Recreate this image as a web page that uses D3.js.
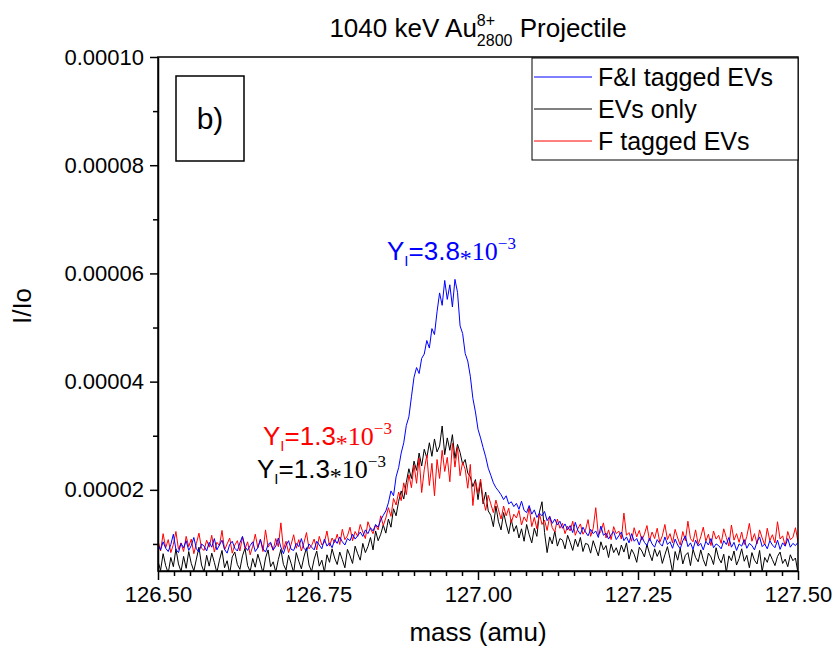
<!DOCTYPE html>
<html>
<head>
<meta charset="utf-8">
<script src="https://cdn.jsdelivr.net/npm/d3@7"></script>
<style>
  body { margin: 0; background: #fff; }
  text { font-family: "Liberation Sans", Arial, sans-serif; fill: #000; }
</style>
</head>
<body>
<svg id="chart" width="834" height="651"></svg>
<script>
// mass grid: 126.500 .. 127.500 amu, one sample every 0.004 amu
const massStart = 126.5, massStep = 0.004, nPoints = 251;

// I/Io in units of 1e-6
const fiTagged = [
  9.8, 8.9, 10.4, 9.2, 8.6, 9.9, 11.8, 9.0, 8.4, 10.1,
  9.3, 10.6, 8.8, 9.7, 11.2, 9.1, 8.5, 10.0, 9.6, 8.7,
  10.3, 9.4, 11.0, 8.9, 9.8, 10.7, 9.0, 8.3, 9.9, 10.5,
  9.2, 8.7, 10.2, 11.4, 9.5, 8.8, 9.7, 10.4, 8.6, 9.3,
  10.8, 9.1, 8.5, 9.9, 10.3, 8.9, 9.6, 11.1, 9.4, 8.2,
  9.7, 10.6, 9.0, 8.8, 10.1, 9.5, 11.0, 9.2, 8.7, 10.0,
  9.4, 8.9, 10.5, 9.8, 9.1, 10.9, 9.6, 10.2, 9.3, 10.8,
  10.1, 11.3, 10.4, 9.8, 11.0, 10.6, 11.8, 10.9, 11.5, 12.2,
  11.4, 12.6, 11.9, 13.0, 12.4, 13.6, 13.1, 14.4, 15.3, 16.1,
  17.6, 19.8, 18.9, 22.4, 24.1, 26.8, 28.7, 31.9, 33.5, 37.2,
  40.8, 42.6, 41.5, 44.3, 45.1, 47.6, 46.2, 49.8, 48.7, 52.9,
  56.4, 54.1, 58.7, 55.2, 57.9, 53.8, 58.9, 56.5, 50.3, 48.9,
  45.2, 43.8, 41.0, 36.9, 34.4, 31.2, 29.6, 27.8, 26.1, 24.0,
  22.7, 21.3, 20.4, 19.8, 19.1, 18.2, 18.9, 17.4, 17.8, 16.9,
  17.5, 16.4, 17.9, 16.2, 15.8, 17.1, 15.5, 16.3, 14.9, 15.7,
  15.2, 16.0, 14.3, 15.1, 13.8, 14.6, 13.5, 14.2, 12.9, 13.7,
  12.6, 13.4, 12.1, 14.0, 12.5, 11.8, 13.1, 12.2, 11.5, 12.7,
  11.9, 12.4, 11.2, 13.3, 11.6, 12.0, 10.9, 11.7, 12.3, 10.8,
  11.5, 12.2, 10.6, 11.3, 10.2, 11.9, 10.5, 11.0, 9.8, 11.4,
  10.3, 9.7, 11.1, 10.0, 9.4, 10.8, 10.1, 9.6, 11.3, 9.9,
  10.4, 9.2, 10.9, 9.8, 9.1, 10.6, 11.5, 9.5, 10.2, 9.0,
  10.7, 9.6, 10.1, 8.9, 10.5, 9.8, 11.0, 9.3, 10.0, 9.7,
  9.1, 10.6, 9.9, 11.2, 9.4, 10.3, 8.8, 10.0, 9.6, 10.8,
  9.2, 10.1, 9.7, 8.9, 10.4, 11.3, 9.5, 10.0, 9.1, 10.6,
  9.8, 9.3, 10.7, 9.0, 10.2, 9.6, 11.0, 9.4, 10.1, 9.7,
  10.3
];

const evsOnly = [
  6.8, 5.1, 8.2, 6.0, 4.6, 7.5, 5.8, 9.1, 6.3, 4.9,
  7.7, 5.5, 8.6, 6.4, 5.0, 7.2, 9.4, 6.1, 4.8, 7.9,
  5.9, 8.3, 6.6, 4.7, 7.0, 8.8, 5.6, 6.9, 4.5, 7.6,
  8.5, 6.2, 5.3, 7.8, 9.2, 6.0, 4.9, 7.3, 5.7, 8.1,
  6.5, 4.6, 7.4, 8.9, 5.8, 6.7, 4.8, 7.1, 9.0, 6.2,
  5.2, 7.9, 6.4, 4.7, 8.4, 6.8, 5.4, 7.6, 9.3, 6.1,
  4.9, 7.2, 8.7, 5.9, 7.0, 4.8, 8.0, 6.6, 9.1, 7.4,
  6.2, 8.5, 7.1, 5.6, 9.0, 7.8, 6.4, 9.6, 8.2, 7.0,
  10.1, 8.4, 9.5, 11.2, 8.9, 12.4, 10.6, 11.8, 13.5, 12.0,
  14.6, 13.1, 16.5, 15.2, 17.9, 19.8, 18.3, 21.4, 23.9, 22.1,
  25.3, 23.6, 26.8, 24.4, 27.5, 25.9, 28.7, 26.2, 29.4, 27.0,
  28.1, 31.8, 26.5, 29.6, 27.3, 30.2, 25.8, 28.4, 26.9, 24.7,
  25.6, 23.1, 22.4, 20.6, 21.9, 18.2, 21.5, 17.4, 19.6, 16.1,
  15.3, 13.2, 17.0, 14.1, 12.6, 15.8, 13.7, 11.9, 14.5, 12.3,
  13.4, 11.1, 12.8, 10.5, 13.6, 11.7, 10.2, 12.9, 11.4, 15.9,
  17.8, 12.1, 8.4, 11.3, 10.0, 12.4, 9.6, 11.0, 10.7, 9.1,
  11.6, 10.3, 8.8, 10.9, 9.5, 11.2, 8.6, 10.1, 9.9, 8.3,
  10.6, 9.2, 7.8, 10.4, 8.9, 9.7, 7.5, 10.0, 8.4, 9.3,
  7.9, 9.8, 8.5, 10.2, 7.2, 9.0, 8.1, 6.6, 9.4, 8.7,
  7.6, 9.9, 8.2, 6.9, 9.1, 7.7, 8.8, 6.4, 8.0, 9.5,
  7.3, 4.8, 8.6, 7.0, 9.2, 6.3, 7.9, 8.4, 6.0, 9.0,
  7.5, 6.7, 8.9, 7.1, 5.9, 8.3, 7.6, 6.2, 9.3, 7.4,
  6.5, 8.1, 4.7, 7.8, 6.9, 8.7, 6.1, 7.3, 9.1, 6.8,
  7.9, 5.6, 8.4, 7.0, 6.3, 8.8, 4.9, 7.5, 6.6, 8.2,
  7.1, 6.0, 7.7, 8.5, 6.4, 7.2, 5.8, 8.0, 6.9, 7.4,
  4.6
];

const fTagged = [
  10.6, 8.7, 11.9, 9.3, 10.8, 8.4, 9.9, 12.3, 9.0, 10.2,
  8.6, 11.4, 9.5, 10.9, 8.2, 10.1, 12.0, 9.2, 8.8, 10.7,
  9.4, 11.6, 8.5, 10.3, 9.7, 12.5, 8.9, 10.0, 11.1, 8.3,
  9.8, 10.6, 8.7, 11.3, 9.1, 10.4, 8.0, 9.6, 11.8, 9.3,
  10.9, 8.6, 12.6, 9.4, 10.1, 8.8, 11.0, 9.5, 13.9, 9.0,
  10.5, 8.4, 9.9, 11.7, 9.2, 10.8, 8.7, 10.2, 12.1, 9.1,
  9.7, 10.9, 8.9, 11.4, 9.8, 10.3, 12.4, 9.6, 11.1, 10.2,
  11.8, 9.9, 12.7, 10.8, 11.5, 13.1, 10.6, 12.3, 11.4, 13.6,
  12.2, 11.0, 14.1, 12.8, 11.9, 13.5, 12.6, 15.2, 13.4, 14.8,
  16.7, 15.1, 18.4, 17.2, 19.6, 18.0, 21.3, 19.1, 22.8, 20.4,
  24.6, 21.2, 25.9, 19.5, 23.7, 26.4, 20.8, 24.9, 18.9, 25.6,
  22.1, 27.3, 23.4, 26.0, 21.5, 28.6, 24.2, 27.9, 22.6, 25.1,
  23.8, 20.3, 24.7, 17.1, 21.6, 19.4, 22.0, 18.3, 16.2, 19.0,
  17.4, 15.8, 18.1, 16.3, 14.6, 17.0, 15.2, 16.6, 13.9, 15.5,
  14.8, 16.2, 13.5, 15.0, 14.1, 16.8, 13.2, 14.9, 12.8, 15.6,
  13.6, 14.4, 12.5, 15.1, 13.0, 12.2, 14.6, 12.9, 13.8, 11.9,
  13.3, 12.4, 14.2, 11.6, 12.8, 13.7, 11.8, 12.6, 14.5, 11.4,
  12.9, 16.7, 11.7, 12.3, 13.9, 11.1, 12.6, 10.8, 13.2, 11.9,
  12.4, 10.9, 15.7, 11.6, 12.1, 10.5, 13.0, 11.3, 12.5, 10.7,
  11.8, 13.4, 10.6, 12.2, 11.0, 12.9, 10.3, 11.5, 13.6, 10.8,
  11.9, 10.2, 12.7, 11.1, 9.8, 12.3, 10.6, 14.2, 11.0, 10.4,
  12.6, 9.9, 11.3, 13.1, 10.5, 11.8, 9.7, 12.4, 10.9, 11.6,
  10.1, 12.8, 11.2, 9.6, 13.5, 10.7, 11.9, 10.3, 12.2, 9.9,
  11.4, 13.8, 10.5, 11.9, 10.0, 12.6, 11.1, 9.8, 12.9, 10.6,
  11.7, 10.2, 14.1, 10.9, 11.5, 9.6, 12.3, 10.8, 11.2, 13.0,
  10.4
];

const seriesNames = ["F&I tagged EVs", "EVs only", "F tagged EVs"];
const seriesColors = ["#0000ff", "#000000", "#ff0000"];
const xTicks = [126.5, 126.75, 127.0, 127.25, 127.5];
const yTicks = [0.00002, 0.00004, 0.00006, 0.00008, 0.00010];

const margin = { top: 57, right: 36, bottom: 80, left: 158 },
      width = 834 - margin.left - margin.right,
      height = 651 - margin.top - margin.bottom;

const svg = d3.select("#chart");
const g = svg.append("g")
  .attr("transform", `translate(${margin.left},${margin.top})`);

const x = d3.scaleLinear().domain([126.5, 127.5]).range([0, width]);
const y = d3.scaleLinear().domain([0.000005, 0.0001]).range([height, 0]);

const toPoints = vals => vals.map((v, i) => ({ m: massStart + i * massStep, v: v * 1e-6 }));
const series = [
  { name: seriesNames[1], color: seriesColors[1], pts: toPoints(evsOnly) },
  { name: seriesNames[2], color: seriesColors[2], pts: toPoints(fTagged) },
  { name: seriesNames[0], color: seriesColors[0], pts: toPoints(fiTagged) }
];

g.append("clipPath").attr("id", "plot-clip")
  .append("rect").attr("width", width).attr("height", height);

const line = d3.line().x(d => x(d.m)).y(d => y(d.v));

g.append("g").attr("clip-path", "url(#plot-clip)")
  .selectAll("path")
  .data(series)
  .enter()
  .append("path")
  .attr("d", d => line(d.pts))
  .attr("fill", "none")
  .attr("stroke", d => d.color)
  .attr("stroke-width", 1);

// axes
const xMinor = d3.range(0, 41).map(i => 126.5 + i * 0.025).filter((d, i) => i % 10 !== 0);
const yMinor = [0.00001, 0.00003, 0.00005, 0.00007, 0.00009];

g.append("g")
  .attr("transform", `translate(0,${height})`)
  .call(d3.axisBottom(x).tickValues(xMinor).tickSize(5).tickFormat(""))
  .call(a => a.select(".domain").remove());

const xAxis = g.append("g")
  .attr("transform", `translate(0,${height})`)
  .call(d3.axisBottom(x).tickValues(xTicks).tickSize(9).tickSizeOuter(0)
    .tickPadding(6).tickFormat(d3.format(".2f")));

g.append("g")
  .call(d3.axisLeft(y).tickValues(yMinor).tickSize(5).tickFormat(""))
  .call(a => a.select(".domain").remove());

const yAxis = g.append("g")
  .call(d3.axisLeft(y).tickValues(yTicks).tickSize(8).tickSizeOuter(0)
    .tickPadding(6).tickFormat(d3.format(".5f")));

g.selectAll(".tick line").attr("stroke-width", 1.5);
g.selectAll(".domain").attr("stroke-width", 1.5);
xAxis.selectAll("text").style("font-size", "22px").style("font-family", "Liberation Sans, Arial, sans-serif");
yAxis.selectAll("text").style("font-size", "22px").style("font-family", "Liberation Sans, Arial, sans-serif");

// frame
g.append("rect")
  .attr("width", width).attr("height", height)
  .attr("fill", "none").attr("stroke", "#000").attr("stroke-width", 1.5);

// axis titles
svg.append("text")
  .attr("x", margin.left + width / 2).attr("y", 641)
  .attr("text-anchor", "middle").style("font-size", "26px")
  .text("mass (amu)");

svg.append("text")
  .attr("transform", `translate(31,${margin.top + height / 2 - 8}) rotate(-90)`)
  .attr("text-anchor", "middle").style("font-size", "26px")
  .text("I/Io");

// title
const title = svg.append("text")
  .attr("x", margin.left + width / 2).attr("y", 37)
  .attr("text-anchor", "middle").style("font-size", "26px");
title.append("tspan").text("1040 keV Au");
const sup = title.append("tspan").attr("dy", -11).style("font-size", "16px").text("8+");
const supW = sup.node().getComputedTextLength();
title.append("tspan").attr("dx", -supW).attr("dy", 20).style("font-size", "16px").text("2800");
title.append("tspan").attr("dy", -9).text(" Projectile");

// b) box
g.append("rect")
  .attr("x", 18).attr("y", 19).attr("width", 68).attr("height", 85)
  .attr("fill", "none").attr("stroke", "#000").attr("stroke-width", 1.5);
g.append("text")
  .attr("x", 52).attr("y", 72).attr("text-anchor", "middle")
  .style("font-size", "30px").text("b)");

// legend
const legend = g.append("g").attr("transform", `translate(${width - 266},1)`);
legend.append("rect")
  .attr("width", 266).attr("height", 102)
  .attr("fill", "#fff").attr("stroke", "#000").attr("stroke-width", 1);
seriesNames.forEach((name, i) => {
  const ly = 19 + i * 32;
  legend.append("line")
    .attr("x1", 2).attr("x2", 60).attr("y1", ly).attr("y2", ly)
    .attr("stroke", seriesColors[i]).attr("stroke-width", 1);
  legend.append("text")
    .attr("x", 66).attr("y", ly + 9)
    .style("font-size", "25px").text(name);
});

// yield annotations
const notes = [
  { value: "3.8", color: "#0000ff", x: 387, y: 260 },
  { value: "1.3", color: "#ff0000", x: 263, y: 445 },
  { value: "1.3", color: "#000000", x: 257, y: 478 }
];
const serif = "Liberation Serif, Times New Roman, serif";
notes.forEach(n => {
  const t = svg.append("text")
    .attr("x", n.x).attr("y", n.y)
    .style("font-size", "26px").style("fill", n.color);
  t.append("tspan").style("fill", n.color).text("Y");
  t.append("tspan").attr("dy", 6).style("font-size", "15px").style("fill", n.color).text("I");
  t.append("tspan").attr("dy", -6).style("fill", n.color).text("=" + n.value);
  t.append("tspan").attr("dy", 6).style("font-size", "24px").style("fill", n.color)
    .style("font-family", serif).text("*");
  t.append("tspan").attr("dy", -6).style("fill", n.color)
    .style("font-family", serif).text("10");
  t.append("tspan").attr("dy", -11).style("font-size", "17px").style("fill", n.color)
    .style("font-family", serif).text("\u22123");
});
</script>
</body>
</html>
